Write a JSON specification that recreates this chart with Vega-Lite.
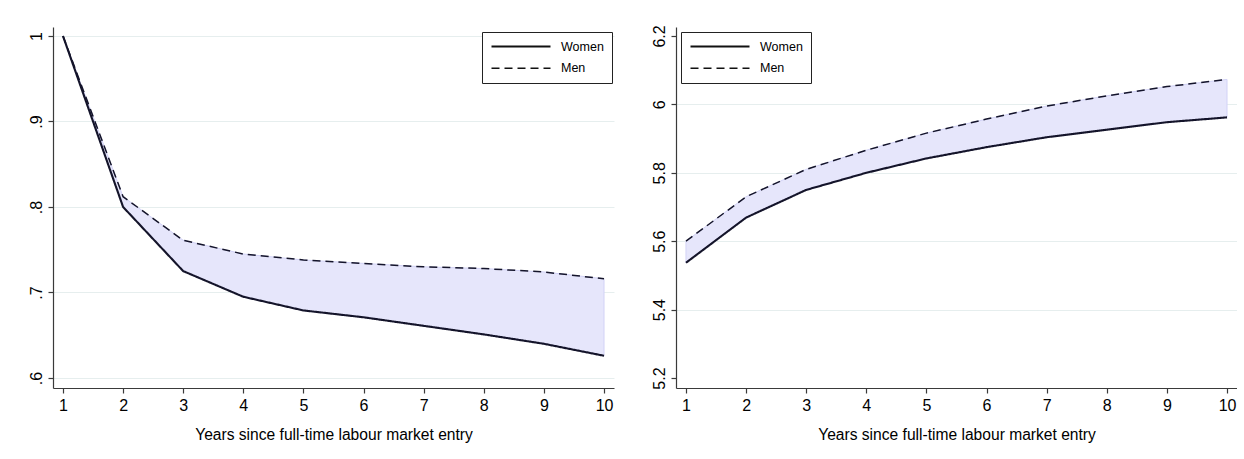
{
  "$schema": "https://vega.github.io/schema/vega-lite/v6.json",
  "background": "white",
  "padding": {"left": 0, "top": 24, "right": 0, "bottom": 0},
  "spacing": 9,
  "config": {
    "font": "Liberation Sans",
    "view": {"stroke": null},
    "axis": {
      "domainColor": "#3a3a3a",
      "domainWidth": 1.2,
      "tickColor": "#3a3a3a",
      "tickWidth": 1.2,
      "tickSize": 5,
      "labelFont": "Liberation Sans",
      "labelFontSize": 16,
      "labelColor": "#000",
      "titleFont": "Liberation Sans",
      "titleFontSize": 15.6,
      "titleFontWeight": "normal",
      "titleColor": "#000",
      "gridColor": "#e6eeee",
      "gridWidth": 1
    },
    "legend": {
      "orient": "none",
      "title": null,
      "direction": "vertical",
      "fillColor": "white",
      "strokeColor": "#222",
      "padding": 8,
      "cornerRadius": 0,
      "symbolType": "M-1,0H10.8",
      "symbolSize": 100,
      "symbolStrokeColor": "#111",
      "symbolStrokeWidth": 1.8,
      "labelFont": "Liberation Sans",
      "labelFontSize": 12.5,
      "labelColor": "#000",
      "labelOffset": 58,
      "rowPadding": 9
    }
  },
  "datasets": {
    "retention": [
      {"year": 1, "Women": 1.0, "Men": 1.0},
      {"year": 2, "Women": 0.800, "Men": 0.812},
      {"year": 3, "Women": 0.725, "Men": 0.761},
      {"year": 4, "Women": 0.695, "Men": 0.745},
      {"year": 5, "Women": 0.679, "Men": 0.738},
      {"year": 6, "Women": 0.671, "Men": 0.734},
      {"year": 7, "Women": 0.661, "Men": 0.730},
      {"year": 8, "Women": 0.651, "Men": 0.728},
      {"year": 9, "Women": 0.640, "Men": 0.724},
      {"year": 10, "Women": 0.626, "Men": 0.716}
    ],
    "logwage": [
      {"year": 1, "Women": 5.537, "Men": 5.600},
      {"year": 2, "Women": 5.669, "Men": 5.730},
      {"year": 3, "Women": 5.750, "Men": 5.810},
      {"year": 4, "Women": 5.800, "Men": 5.866},
      {"year": 5, "Women": 5.842, "Men": 5.916},
      {"year": 6, "Women": 5.875, "Men": 5.957},
      {"year": 7, "Women": 5.904, "Men": 5.995},
      {"year": 8, "Women": 5.926, "Men": 6.025},
      {"year": 9, "Women": 5.948, "Men": 6.052},
      {"year": 10, "Women": 5.962, "Men": 6.073}
    ]
  },
  "hconcat": [
    {
      "width": 561,
      "height": 361,
      "data": {"name": "retention"},
      "layer": [
        {
          "mark": {"type": "area", "fill": "#e6e6fb", "stroke": "#d2d2f6", "strokeWidth": 1},
          "encoding": {
            "x": {
              "field": "year", "type": "quantitative",
              "scale": {"domain": [0.834, 10.166], "nice": false, "zero": false},
              "axis": {"values": [1, 2, 3, 4, 5, 6, 7, 8, 9, 10], "format": "d", "grid": false, "labelPadding": 4, "titlePadding": 14, "title": "Years since full-time labour market entry"}
            },
            "y": {
              "field": "Women", "type": "quantitative",
              "scale": {"domain": [0.5883, 1.0105], "nice": false, "zero": false},
              "axis": {
                "title": null, "grid": true,
                "values": [0.6, 0.7, 0.8, 0.9, 1],
                "labelExpr": "datum.value == 1 ? '1' : '.' + round(datum.value * 10)",
                "labelAngle": -90, "labelAlign": "center", "labelBaseline": "bottom",
                "labelPadding": 4, "minExtent": 53, "maxExtent": 53
              }
            },
            "y2": {"field": "Men"}
          }
        },
        {
          "transform": [{"fold": ["Women", "Men"], "as": ["group", "value"]}],
          "mark": {"type": "line", "color": "#14142a"},
          "encoding": {
            "x": {"field": "year", "type": "quantitative"},
            "y": {"field": "value", "type": "quantitative"},
            "strokeDash": {
              "field": "group", "type": "nominal",
              "scale": {"domain": ["Women", "Men"], "range": [[1, 0], [8, 5]]},
              "legend": {"legendX": 429, "legendY": 5}
            },
            "strokeWidth": {
              "field": "group", "type": "nominal",
              "scale": {"domain": ["Women", "Men"], "range": [2.1, 1.5]},
              "legend": null
            }
          }
        }
      ]
    },
    {
      "width": 561,
      "height": 361,
      "data": {"name": "logwage"},
      "layer": [
        {
          "mark": {"type": "area", "fill": "#e6e6fb", "stroke": "#d2d2f6", "strokeWidth": 1},
          "encoding": {
            "x": {
              "field": "year", "type": "quantitative",
              "scale": {"domain": [0.834, 10.166], "nice": false, "zero": false},
              "axis": {"values": [1, 2, 3, 4, 5, 6, 7, 8, 9, 10], "format": "d", "grid": false, "labelPadding": 4, "titlePadding": 14, "title": "Years since full-time labour market entry"}
            },
            "y": {
              "field": "Women", "type": "quantitative",
              "scale": {"domain": [5.1708, 6.2263], "nice": false, "zero": false},
              "axis": {
                "title": null, "grid": true,
                "values": [5.2, 5.4, 5.6, 5.8, 6, 6.2],
                "labelExpr": "datum.value == 6 ? '6' : format(datum.value, '.1f')",
                "gridOpacity": {"condition": {"test": "datum.value < 5.3 || datum.value > 6.1", "value": 0}, "value": 1},
                "labelAngle": -90, "labelAlign": "center", "labelBaseline": "bottom",
                "labelPadding": 4, "minExtent": 53, "maxExtent": 53
              }
            },
            "y2": {"field": "Men"}
          }
        },
        {
          "transform": [{"fold": ["Women", "Men"], "as": ["group", "value"]}],
          "mark": {"type": "line", "color": "#14142a"},
          "encoding": {
            "x": {"field": "year", "type": "quantitative"},
            "y": {"field": "value", "type": "quantitative"},
            "strokeDash": {
              "field": "group", "type": "nominal",
              "scale": {"domain": ["Women", "Men"], "range": [[1, 0], [8, 5]]},
              "legend": {"legendX": 5, "legendY": 5}
            },
            "strokeWidth": {
              "field": "group", "type": "nominal",
              "scale": {"domain": ["Women", "Men"], "range": [2.1, 1.5]},
              "legend": null
            }
          }
        }
      ]
    }
  ],
  "resolve": {"scale": {"strokeDash": "independent", "strokeWidth": "independent"}}
}
